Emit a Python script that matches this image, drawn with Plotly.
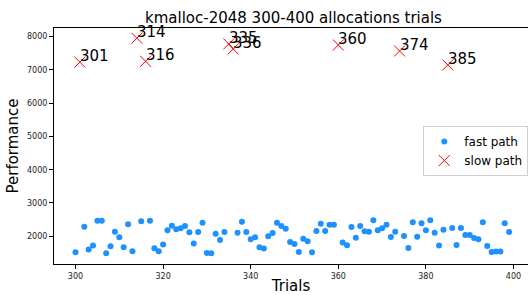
import plotly.graph_objects as go

fast_trials = [300, 302, 303, 304, 305, 306, 307, 308, 309, 310, 311, 312, 313,
               315, 317, 318, 319, 320, 321, 322, 323, 324, 325, 326, 327, 328,
               329, 330, 331, 332, 333, 334, 337, 338, 339, 340, 341, 342, 343,
               344, 345, 346, 347, 348, 349, 350, 351, 352, 353, 354, 355, 356,
               357, 358, 359, 361, 362, 363, 364, 365, 366, 367, 368, 369, 370,
               371, 372, 373, 375, 376, 377, 378, 379, 380, 381, 382, 383, 384,
               386, 387, 388, 389, 390, 391, 392, 393, 394, 395, 396, 397, 398, 399]
fast_perf = [1520, 2290, 1600, 1720, 2470, 2470, 1490, 1700, 2140, 1970, 1670, 2360, 1550,
             2450, 2470, 1640, 1550, 1750, 2180, 2320, 2210, 2240, 2310, 2120, 1780, 2130,
             2410, 1500, 1490, 2080, 1890, 2130, 2110, 2440, 2130, 1910, 1970, 1670, 1630,
             2000, 2100, 2410, 2310, 2230, 1830, 1770, 1530, 1930, 1850, 1520, 2160, 2380,
             2160, 2350, 2350, 1810, 1730, 2280, 1960, 2310, 2150, 2140, 2480, 2180, 2240,
             2350, 1980, 2140, 2010, 1650, 2420, 1990, 2390, 2180, 2480, 2110, 1720, 2200,
             2250, 1740, 2250, 2040, 2040, 1950, 1910, 2420, 1710, 1530, 1540, 1540, 2390, 2130]

slow_trials = [301, 314, 316, 335, 336, 360, 374, 385]
slow_perf = [7230, 7950, 7255, 7775, 7625, 7745, 7565, 7145]

x_ticks = [300, 320, 340, 360, 380, 400]
y_ticks = [2000, 3000, 4000, 5000, 6000, 7000, 8000]

FONT = "DejaVu Sans"

fig = go.Figure()
fig.add_trace(go.Scatter(
    x=fast_trials, y=fast_perf, mode="markers", name="fast path",
    marker=dict(color="#1E90FF", size=6, line=dict(width=0)),
))
fig.add_trace(go.Scatter(
    x=slow_trials, y=slow_perf, mode="markers", name="slow path",
    marker=dict(symbol="x-thin", color="red", size=11, line=dict(color="red", width=1)),
))

for t, v in zip(slow_trials, slow_perf):
    fig.add_annotation(
        x=t, y=v, xref="x", yref="y", text=str(t), showarrow=False,
        xanchor="left", yanchor="bottom", xshift=-2, yshift=-5,
        font=dict(family=FONT, size=15, color="black"),
    )

# title as paper-referenced text
fig.add_annotation(
    x=(293.4 - 54) / 474, y=1, xref="paper", yref="paper",
    text="kmalloc-2048 300-400 allocations trials", showarrow=False,
    xanchor="center", yanchor="bottom", yshift=-1,
    font=dict(family=FONT, size=15, color="black"),
)

fig.update_layout(
    width=528, height=295,
    margin=dict(l=54, r=0, t=28, b=31, autoexpand=False),
    paper_bgcolor="white", plot_bgcolor="white",
    font=dict(family=FONT, color="black"),
    showlegend=True,
    legend=dict(
        x=(423.3 - 54) / 474, y=(264 - 126) / 236, xanchor="left", yanchor="top",
        bgcolor="white", bordercolor="#d0d0d0", borderwidth=1,
        font=dict(family=FONT, size=12, color="black"),
        tracegroupgap=0,
    ),
)

fig.update_xaxes(
    range=[295.09, 403.31], tickvals=x_ticks, ticks="outside", ticklen=4,
    tickcolor="black", tickwidth=1, showline=True, linecolor="black", linewidth=1,
    mirror=True, showgrid=False, zeroline=False, automargin=False,
    tickfont=dict(family=FONT, size=8, color="#222"),
    title=dict(text="Trials", font=dict(family=FONT, size=15, color="black"), standoff=4),
)
fig.update_yaxes(
    range=[1168, 8255], tickvals=y_ticks, ticks="outside", ticklen=4,
    tickcolor="black", tickwidth=1, showline=True, linecolor="black", linewidth=1,
    showgrid=False, zeroline=False, automargin=False,
    tickfont=dict(family=FONT, size=8, color="#222"),
    title=dict(text="Performance", font=dict(family=FONT, size=15, color="black"), standoff=4),
)

fig.write_html(
    "out.html",
    config={"displayModeBar": False},
    post_script="document.body.style.margin='0';document.body.style.overflow='hidden';",
)
